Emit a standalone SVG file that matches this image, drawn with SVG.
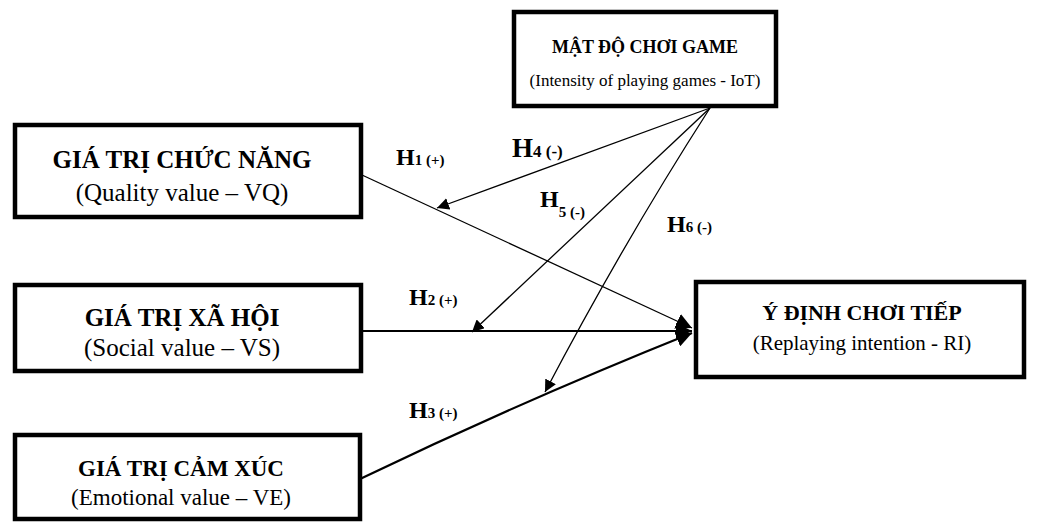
<svg xmlns="http://www.w3.org/2000/svg" width="1039" height="523" viewBox="0 0 1039 523">
<style>
.box{fill:#fff;stroke:#000;stroke-width:4.5}
.t{font-family:"Liberation Serif",serif;font-weight:bold;font-size:25px;text-anchor:middle}
.s{font-family:"Liberation Serif",serif;font-size:25px;text-anchor:middle}
.h{font-family:"Liberation Serif",serif;font-weight:bold;font-size:24px}
.hs{font-size:15px}
.ln{fill:none;stroke:#000;stroke-width:1.3}
.lt{fill:none;stroke:#000;stroke-width:2.2}
</style>
<defs>
<marker id="a" viewBox="0 0 10 10" refX="10" refY="5" markerWidth="12" markerHeight="12" markerUnits="userSpaceOnUse" orient="auto"><path d="M0,0 L10,5 L0,10 z"/></marker>
<marker id="b" viewBox="0 0 10 10" refX="10" refY="5" markerWidth="16" markerHeight="16" markerUnits="userSpaceOnUse" orient="auto"><path d="M0,0 L10,5 L0,10 z"/></marker>
</defs>
<g id="connectors">
<line class="ln" x1="362" y1="175" x2="692" y2="328" marker-end="url(#b)"/>
<line class="lt" x1="362" y1="331" x2="692" y2="331" marker-end="url(#b)"/>
<path class="lt" d="M360,479 Q520,402 692,333" marker-end="url(#b)"/>
<line class="ln" x1="710" y1="108" x2="437" y2="208" marker-end="url(#a)"/>
<line class="ln" x1="710" y1="108" x2="472" y2="332" marker-end="url(#a)"/>
<path class="ln" d="M710,108 Q625,240 545,392" marker-end="url(#a)"/>
</g>
<g id="iot">
<rect class="box" x="514" y="12" width="262" height="94"/>
<text class="t" x="645" y="53" style="font-size:18px">MẬT ĐỘ CHƠI GAME</text>
<text class="s" x="645" y="86" style="font-size:17px">(Intensity of playing games - IoT)</text>
</g>
<g id="vq">
<rect class="box" x="15" y="125" width="346" height="92"/>
<text class="t" x="182" y="168">GIÁ TRỊ CHỨC NĂNG</text>
<text class="s" x="182" y="201">(Quality value – VQ)</text>
</g>
<g id="vs">
<rect class="box" x="15" y="285" width="346" height="86"/>
<text class="t" x="182" y="326">GIÁ TRỊ XÃ HỘI</text>
<text class="s" x="182" y="356">(Social value – VS)</text>
</g>
<g id="ve">
<rect class="box" x="15" y="435" width="345" height="84"/>
<text class="t" x="181" y="476" style="font-size:23px">GIÁ TRỊ CẢM XÚC</text>
<text class="s" x="181" y="505" style="font-size:23px">(Emotional value – VE)</text>
</g>
<g id="ri">
<rect class="box" x="696" y="282" width="328" height="95"/>
<text class="t" x="862" y="320" style="font-size:22px">Ý ĐỊNH CHƠI TIẾP</text>
<text class="s" x="862" y="350" style="font-size:21px">(Replaying intention - RI)</text>
</g>
<g id="labels">
<text class="h" x="396" y="165">H<tspan class="hs">1 (+)</tspan></text>
<text class="h" x="512" y="157" style="font-size:27px">H<tspan class="hs" style="font-size:17px">4 (-)</tspan></text>
<text class="h" x="540" y="207">H<tspan class="hs" dy="10">5 (-)</tspan></text>
<text class="h" x="667" y="232">H<tspan class="hs">6 (-)</tspan></text>
<text class="h" x="409" y="305">H<tspan class="hs">2 (+)</tspan></text>
<text class="h" x="409" y="418">H<tspan class="hs">3 (+)</tspan></text>
</g>
</svg>
